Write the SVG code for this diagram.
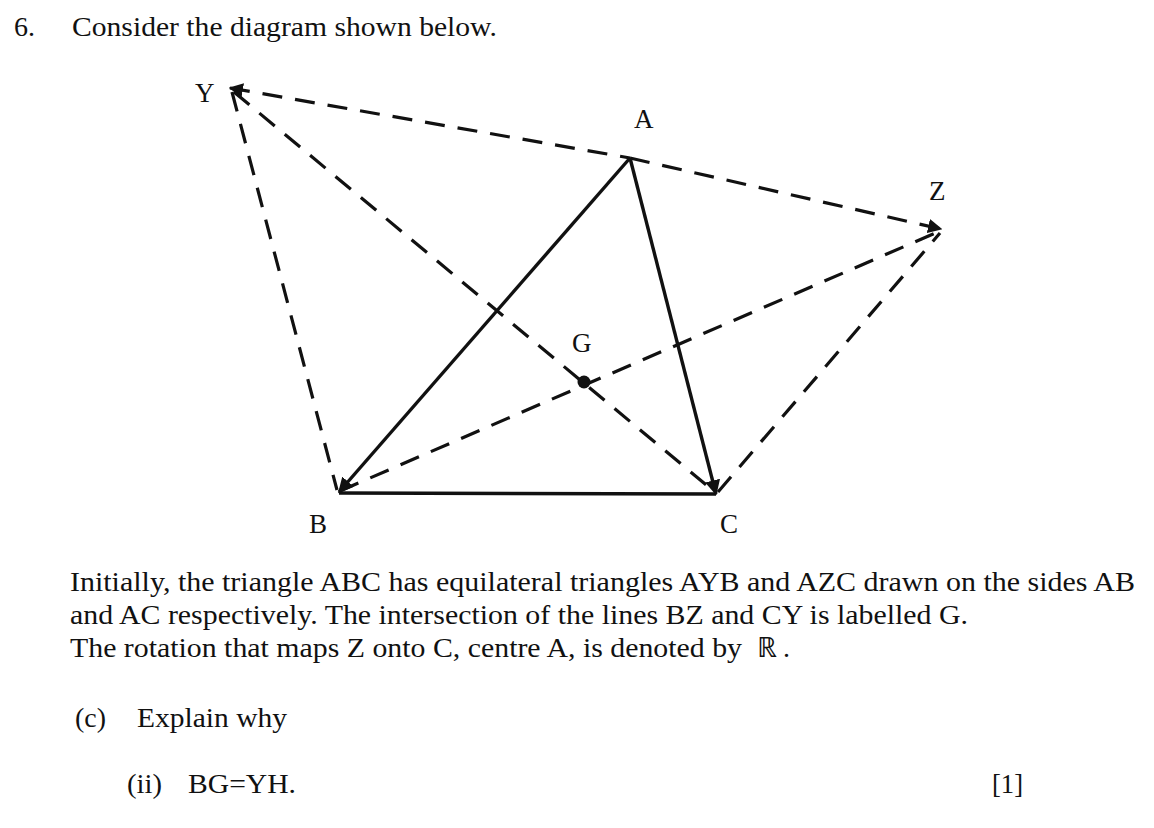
<svg xmlns="http://www.w3.org/2000/svg" width="1154" height="828" viewBox="0 0 1154 828">
<style>
text{font-family:"Liberation Serif","Times New Roman",serif;fill:#111;font-size:28px}
.lbl{font-size:27px}
.d{stroke:#111;stroke-width:3.2;stroke-dasharray:20 13;fill:none}
.s{stroke:#111;stroke-width:3.4;fill:none}
</style>
<defs>
<marker id="ah" viewBox="0 0 10 10" refX="9" refY="5" markerWidth="4.5" markerHeight="4.5" orient="auto" markerUnits="strokeWidth">
<path d="M0,0 L10,5 L0,10 z" fill="#111"/>
</marker>
<marker id="ahs" viewBox="0 0 10 10" refX="1" refY="5" markerWidth="4.5" markerHeight="4.5" orient="auto" markerUnits="strokeWidth">
<path d="M10,0 L0,5 L10,10 z" fill="#111"/>
</marker>
</defs>
<rect width="1154" height="828" fill="#fff"/>
<text x="14" y="36" textLength="21" lengthAdjust="spacingAndGlyphs">6.</text>
<text x="72" y="36" textLength="425" lengthAdjust="spacingAndGlyphs">Consider the diagram shown below.</text>
<g id="connectors">
<line class="d" x1="230" y1="88" x2="630" y2="158" marker-start="url(#ahs)"/>
<line class="d" x1="630" y1="158" x2="941" y2="229" marker-end="url(#ah)"/>
<line class="d" x1="232" y1="92" x2="337" y2="490"/>
<line class="d" x1="234" y1="92" x2="716" y2="493"/>
<line class="d" x1="340" y1="491" x2="940" y2="231"/>
<line class="d" x1="718" y1="492" x2="940" y2="233"/>
<line class="s" x1="630" y1="158" x2="339" y2="492" marker-end="url(#ah)"/>
<line class="s" x1="630" y1="158" x2="716" y2="494" marker-end="url(#ah)"/>
<line class="s" x1="339" y1="493" x2="716" y2="494"/>
</g>
<g id="node-Y"><text class="lbl" x="195" y="102">Y</text></g>
<g id="node-A"><text class="lbl" x="634" y="128">A</text></g>
<g id="node-Z"><text class="lbl" x="929" y="200">Z</text></g>
<g id="node-G"><circle cx="584" cy="382" r="6.5" fill="#111"/><text class="lbl" x="572" y="352">G</text></g>
<g id="node-B"><text class="lbl" x="309" y="533">B</text></g>
<g id="node-C"><text class="lbl" x="720" y="533">C</text></g>
<text x="70" y="591" textLength="1065" lengthAdjust="spacingAndGlyphs">Initially, the triangle ABC has equilateral triangles AYB and AZC drawn on the sides AB</text>
<text x="70" y="624" textLength="898" lengthAdjust="spacingAndGlyphs">and AC respectively. The intersection of the lines BZ and CY is labelled G.</text>
<text x="70" y="657" textLength="672" lengthAdjust="spacingAndGlyphs">The rotation that maps Z onto C, centre A, is denoted by</text>
<text x="757" y="657" font-family="DejaVu Serif, serif" font-size="23">ℝ</text>
<text x="783" y="657">.</text>
<text x="75" y="727" textLength="31" lengthAdjust="spacingAndGlyphs">(c)</text>
<text x="137" y="727" textLength="150" lengthAdjust="spacingAndGlyphs">Explain why</text>
<text x="127" y="793" textLength="35" lengthAdjust="spacingAndGlyphs">(ii)</text>
<text x="188" y="793" textLength="108" lengthAdjust="spacingAndGlyphs">BG=YH.</text>
<text x="992" y="793" textLength="31" lengthAdjust="spacingAndGlyphs">[1]</text>
</svg>
